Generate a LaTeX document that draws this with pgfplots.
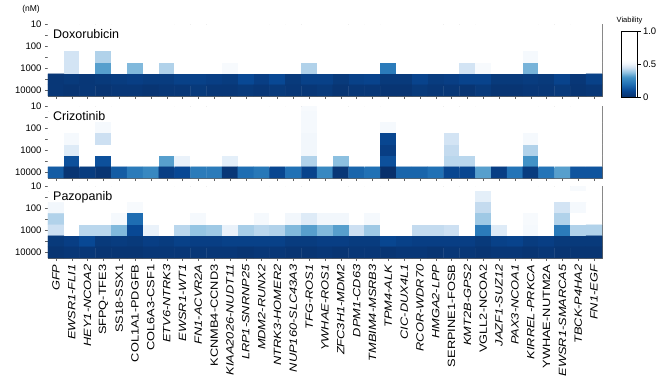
\documentclass[border=0pt]{standalone}
\usepackage{fontspec}
\setmainfont{Liberation Sans}
\usepackage{graphicx}
\usepackage{pgfplots}
\pgfplotsset{compat=1.18}
\definecolor{axgray}{RGB}{100,100,100}
\tikzset{ptitle/.style={anchor=north west, inner sep=0pt, font=\fontsize{12.5bp}{14bp}\selectfont}}
\newcommand{\lab}[1]{\scalebox{1.22}[1]{#1}}
\newcommand{\ilab}[1]{\scalebox{1.22}[1]{\textit{#1}}}
\pgfplotsset{
  colormap={viab}{rgb255(0pt)=(8,48,107); rgb255(10pt)=(8,72,148); rgb255(20pt)=(33,113,181); rgb255(30pt)=(66,146,198); rgb255(37pt)=(140,192,224); rgb255(44pt)=(205,224,242); rgb255(50pt)=(240,246,252); rgb255(56pt)=(255,255,255); rgb255(100pt)=(255,255,255)},
  panel/.style={
    at={(0,#1)}, anchor=north west,
    scale only axis, width=554bp, height=72bp,
    xmin=-0.5, xmax=34.5, ymin=1, ymax=4.25, y dir=reverse,
    ytick={1,2,3,4}, yticklabels={10,100,1000,10000},
    minor ytick={1.5,2.5,3.5},
    xtick={0,...,34}, xticklabels={},
    tick align=outside, tick pos=left,
    major tick length=3bp, minor tick length=2.5bp,
    colormap name=viab, point meta min=0, point meta max=1,
    axis line style={axgray, line width=0.7pt},
    every tick/.style={axgray},
    yticklabel style={font=\fontsize{9.5bp}{10bp}\selectfont},
  },
  hm/.style={matrix plot*, mesh/cols=35, point meta=explicit},
}
\begin{document}
\begin{tikzpicture}
\path[use as bounding box] (-48bp,24bp) rectangle (615bp,-357bp);
% ---------------- Doxorubicin ----------------
\begin{axis}[panel=0bp, name=dox,
  colorbar,
  colorbar style={
    at={(parent axis.north east)}, anchor=north west, xshift=11bp, yshift=-7bp,
    scale only axis, width=16bp, height=66bp, y dir=normal,
    ytick={0,0.5,1}, yticklabels={0,0.5,1.0}, ytick pos=right, yticklabel pos=right,
    minor ytick={}, xtick=\empty,
    yticklabel style={font=\fontsize{9.5bp}{10bp}\selectfont, xshift=-1bp},
    major tick length=3bp, tick align=outside,
    axis line style={black, line width=0.7pt}, every tick/.style={black},
    title={Viability}, title style={font=\fontsize{7.5bp}{9bp}\selectfont, yshift=-3bp},
  }]
\addplot[hm] table[row sep=\\, x expr={mod(\coordindex,35)}, y expr={1+0.5*floor((\coordindex+0.5)/35)}, meta=c] {
c\\
1\\1\\1\\1\\1\\ 1\\1\\1\\1\\1\\ 1\\1\\1\\1\\1\\ 1\\1\\1\\1\\1\\ 1\\1\\1\\1\\1\\ 1\\1\\1\\1\\1\\ 1\\1\\1\\1\\1\\
1\\1\\1\\1\\1\\ 1\\1\\1\\1\\1\\ 1\\1\\1\\1\\1\\ 1\\1\\1\\1\\1\\ 1\\1\\1\\1\\1\\ 1\\1\\1\\1\\1\\ 1\\1\\1\\1\\1\\
1\\1\\1\\1\\1\\ 1\\1\\1\\1\\1\\ 1\\1\\1\\1\\1\\ 1\\1\\1\\1\\1\\ 1\\1\\1\\1\\1\\ 1\\1\\1\\1\\1\\ 1\\1\\1\\1\\1\\
1\\0.45\\1\\0.41\\1\\ 1\\1\\1\\1\\1\\ 1\\1\\1\\1\\1\\ 1\\1\\1\\1\\1\\ 1\\1\\1\\1\\1\\ 1\\1\\1\\1\\1\\ 0.52\\1\\1\\1\\1\\
1\\0.45\\1\\0.32\\1\\ 0.36\\1\\0.41\\1\\1\\ 1\\0.53\\1\\1\\1\\ 1\\0.41\\1\\1\\1\\ 1\\0.23\\1\\1\\1\\ 1\\0.45\\0.53\\1\\1\\ 0.35\\1\\1\\1\\1\\
0.03\\0.04\\0.03\\0.04\\0.05\\ 0.06\\0.05\\0.05\\0.07\\0.07\\ 0.06\\0.05\\0.10\\0.06\\0.10\\ 0.04\\0.07\\0.07\\0.04\\0.07\\ 0.08\\0.04\\0.04\\0.08\\0.05\\ 0.06\\0.08\\0.08\\0.04\\0.04\\ 0.05\\0.04\\0.08\\0.03\\0.07\\
0.03\\0.02\\0.03\\0.02\\0.03\\ 0.03\\0.02\\0.03\\0.03\\0.04\\ 0.03\\0.03\\0.04\\0.03\\0.04\\ 0.03\\0.03\\0.04\\0.02\\0.03\\ 0.03\\0.02\\0.02\\0.04\\0.03\\ 0.03\\0.02\\0.04\\0.02\\0.02\\ 0.03\\0.03\\0.04\\0.02\\0.03\\
};
\node[ptitle] at ([xshift=5bp,yshift=-5bp]axis description cs:0,1) {Doxorubicin};
\end{axis}
\node[font=\fontsize{8.5bp}{10bp}\selectfont] at ([xshift=-17bp,yshift=14.5bp]dox.north west) {(nM)};
% ---------------- Crizotinib ----------------
\begin{axis}[panel=-82bp]
\addplot[hm] table[row sep=\\, x expr={mod(\coordindex,35)}, y expr={1+0.5*floor((\coordindex+0.5)/35)}, meta=c] {
c\\
1\\1\\1\\1\\1\\ 1\\1\\1\\1\\1\\ 1\\1\\1\\1\\1\\ 1\\0.53\\1\\1\\1\\ 1\\1\\1\\1\\1\\ 1\\1\\1\\1\\1\\ 1\\1\\1\\1\\1\\
1\\1\\1\\1\\1\\ 1\\1\\1\\1\\1\\ 1\\1\\1\\1\\1\\ 1\\0.52\\1\\1\\1\\ 1\\1\\1\\1\\1\\ 1\\1\\1\\1\\1\\ 1\\1\\1\\1\\1\\
1\\1\\1\\0.52\\1\\ 1\\1\\1\\1\\1\\ 1\\1\\1\\1\\1\\ 1\\0.52\\1\\1\\1\\ 1\\0.52\\1\\1\\1\\ 1\\1\\1\\1\\1\\ 1\\1\\1\\1\\1\\
1\\0.52\\1\\0.44\\1\\ 1\\1\\1\\1\\1\\ 1\\1\\1\\1\\1\\ 1\\0.51\\1\\1\\1\\ 1\\0.09\\1\\1\\1\\ 0.45\\1\\1\\1\\1\\ 0.52\\1\\1\\1\\1\\
1\\0.47\\1\\1\\1\\ 1\\1\\1\\1\\1\\ 1\\1\\1\\1\\1\\ 1\\0.51\\1\\1\\1\\ 1\\0.06\\1\\1\\1\\ 0.43\\1\\1\\1\\1\\ 0.41\\1\\1\\1\\1\\
1\\0.12\\1\\0.12\\1\\ 1\\1\\0.32\\0.49\\1\\ 1\\0.48\\1\\1\\1\\ 1\\0.41\\1\\0.37\\1\\ 1\\0.12\\1\\1\\1\\ 0.42\\0.42\\1\\1\\1\\ 0.30\\1\\1\\1\\1\\
0.15\\0.02\\0.05\\0.02\\0.15\\ 0.23\\0.27\\0.06\\0.10\\0.23\\ 0.23\\0.03\\0.19\\0.22\\0.09\\ 0.20\\0.08\\0.27\\0.03\\0.17\\ 0.20\\0.00\\0.17\\0.17\\0.20\\ 0.09\\0.09\\0.32\\0.06\\0.21\\ 0.05\\0.21\\0.32\\0.13\\0.13\\
};
\node[ptitle] at ([xshift=5bp,yshift=-5bp]axis description cs:0,1) {Crizotinib};
\end{axis}
% ---------------- Pazopanib ----------------
\begin{axis}[panel=-162bp,
  xticklabels={\ilab{GFP}, \ilab{EWSR1-FLI1}, \ilab{HEY1-NCOA2}, \lab{SFPQ-TFE3}, \lab{SS18-SSX1}, \lab{COL1A1-PDGFB}, \lab{COL6A3-CSF1}, \ilab{ETV6-NTRK3}, \ilab{EWSR1-WT1}, \ilab{FN1-ACVR2A}, \lab{KCNMB4-CCND3}, \ilab{KIAA2026-NUDT11}, \ilab{LRP1-SNRNP25}, \ilab{MDM2-RUNX2}, \ilab{NTRK3-HOMER2}, \ilab{NUP160-SLC43A3}, \ilab{TFG-ROS1}, \ilab{YWHAE-ROS1}, \ilab{ZFC3H1-MDM2}, \ilab{DPM1-CD63}, \ilab{TMBIM4-MSRB3}, \ilab{TPM4-ALK}, \ilab{CIC-DUX4L1}, \ilab{RCOR-WDR70}, \ilab{HMGA2-LPP}, \lab{SERPINE1-FOSB}, \ilab{KMT2B-GPS2}, \lab{VGLL2-NCOA2}, \ilab{JAZF1-SUZ12}, \ilab{PAX3-NCOA1}, \ilab{KIRREL-PRKCA}, \lab{YWHAE-NUTM2A}, \ilab{EWSR1-SMARCA5}, \ilab{TBCK-P4HA2}, \ilab{FN1-EGF}},
  xticklabel style={rotate=90, anchor=east, font=\fontsize{10.5bp}{12bp}\selectfont},
  ]
\addplot[hm] table[row sep=\\, x expr={mod(\coordindex,35)}, y expr={1+0.5*floor((\coordindex+0.5)/35)}, meta=c] {
c\\
1\\1\\1\\1\\1\\ 1\\1\\1\\1\\1\\ 1\\1\\1\\1\\1\\ 1\\1\\1\\1\\1\\ 1\\1\\1\\1\\1\\ 1\\1\\1\\1\\1\\ 1\\1\\1\\0.53\\1\\
1\\1\\1\\1\\1\\ 1\\1\\1\\1\\1\\ 1\\1\\1\\1\\1\\ 1\\1\\1\\1\\1\\ 1\\1\\1\\1\\1\\ 1\\1\\0.48\\1\\1\\ 1\\1\\1\\1\\1\\
0.51\\1\\1\\1\\1\\ 0.53\\1\\1\\1\\1\\ 1\\1\\1\\1\\1\\ 1\\1\\1\\1\\1\\ 1\\1\\1\\1\\1\\ 1\\1\\0.43\\1\\1\\ 1\\1\\0.45\\0.52\\1\\
0.41\\1\\1\\1\\0.52\\ 0.19\\1\\1\\1\\0.52\\ 1\\1\\1\\0.52\\1\\ 0.51\\0.47\\0.51\\0.51\\1\\ 0.52\\1\\1\\1\\1\\ 1\\1\\0.39\\1\\1\\ 0.53\\1\\0.41\\1\\1\\
0.44\\1\\0.42\\0.42\\0.36\\ 0.10\\0.49\\1\\0.42\\0.38\\ 0.39\\0.49\\0.40\\0.42\\0.41\\ 0.36\\0.32\\0.36\\0.32\\0.44\\ 0.39\\1\\1\\0.43\\0.43\\ 0.44\\1\\0.23\\0.47\\1\\ 0.52\\1\\0.23\\0.41\\0.41\\
0.04\\0.06\\0.10\\0.04\\0.05\\ 0.04\\0.06\\0.05\\0.07\\0.06\\ 0.06\\0.07\\0.07\\0.07\\0.07\\ 0.05\\0.05\\0.06\\0.06\\0.05\\ 0.05\\0.09\\0.07\\0.06\\0.06\\ 0.06\\0.06\\0.04\\0.07\\0.08\\ 0.05\\0.06\\0.04\\0.04\\0.04\\
0.02\\0.03\\0.03\\0.02\\0.02\\ 0.02\\0.03\\0.03\\0.03\\0.03\\ 0.03\\0.03\\0.02\\0.03\\0.03\\ 0.02\\0.02\\0.03\\0.02\\0.03\\ 0.03\\0.02\\0.03\\0.03\\0.02\\ 0.03\\0.03\\0.02\\0.03\\0.03\\ 0.02\\0.03\\0.02\\0.02\\0.02\\
};
\node[ptitle] at ([xshift=5bp,yshift=-5bp]axis description cs:0,1) {Pazopanib};
\end{axis}
\end{tikzpicture}
\end{document}
